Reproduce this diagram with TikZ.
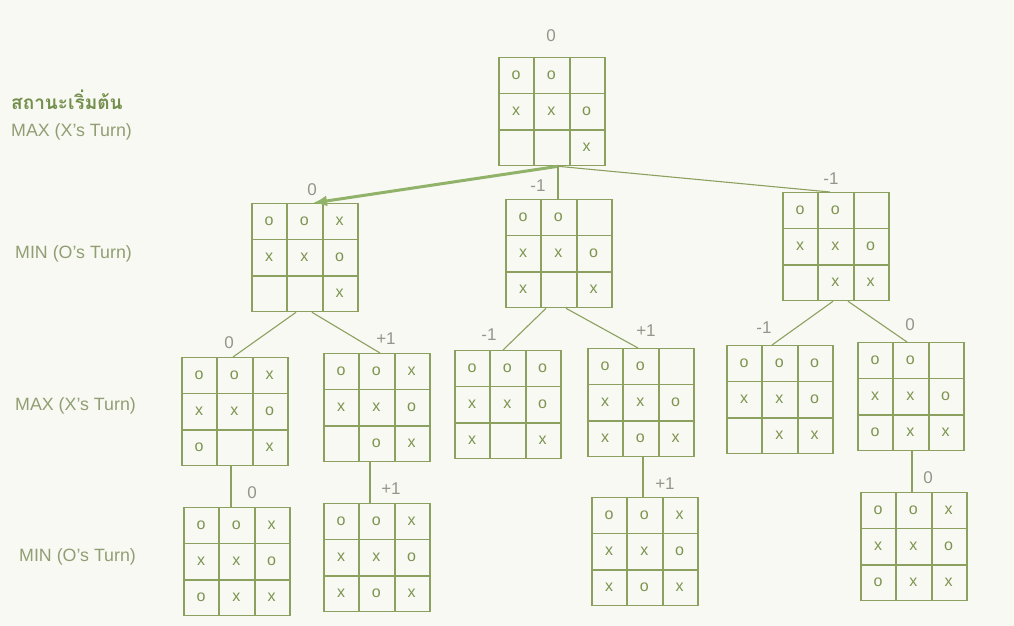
\documentclass[tikz,border=0pt]{standalone}
\usepackage{fontspec}
\setmainfont{Liberation Sans}
\newfontfamily\thaifont[Script=Thai]{Loma}
\usetikzlibrary{
    arrows.meta,
    positioning,
    calc
}
\definecolor{PaperTint}{RGB}{248,249,243}
\definecolor{BoardGreen}{RGB}{140,160,95}
\definecolor{MarkGreen}{RGB}{125,148,80}
\definecolor{ValueGray}{RGB}{148,150,138}
\definecolor{TurnGray}{RGB}{145,158,115}
\definecolor{ThaiGreen}{RGB}{115,143,75}
\definecolor{ArrowGreen}{RGB}{145,178,105}
\tikzset{
    boardbox/.style={
        draw=BoardGreen,
        line width=1.3pt,
        minimum width=106pt,
        minimum height=108pt,
        inner sep=0pt,
        anchor=north
    },
    gridline/.style={
        BoardGreen,
        line width=1.3pt
    },
    markcell/.style={
        text=MarkGreen,
        font=\fontsize{16}{19}\selectfont,
        inner sep=0pt
    },
    valuetag/.style={
        text=ValueGray,
        font=\fontsize{17}{20}\selectfont,
        inner sep=0pt
    },
    turntag/.style={
        text=TurnGray,
        font=\fontsize{17.8}{21}\selectfont,
        anchor=west,
        inner sep=0pt
    },
    link/.style={
        BoardGreen,
        line width=1.1pt
    },
    bestlink/.style={
        ArrowGreen,
        line width=3pt,
        -{Latex[length=14pt,width=11pt]}
    }
}
% one tic-tac-toe position: name, top centre, nine cells (- = empty)
\newcommand{\tttboard}[3]{%
    \node[boardbox] (#1) at (#2) {};
    \foreach \k in {1,2}{
        \draw[gridline]
        ($(#1.north west)!\k/3!(#1.north east)$)
        --
        ($(#1.south west)!\k/3!(#1.south east)$);
        \draw[gridline]
        ($(#1.north west)!\k/3!(#1.south west)$)
        --
        ($(#1.north east)!\k/3!(#1.south east)$);
    }
    \foreach \m [count=\i from 0] in {#3}{
        \pgfmathtruncatemacro{\c}{mod(\i,3)}
        \pgfmathtruncatemacro{\r}{\i/3}
        \if\m-\else
            \node[markcell] (#1-\i)
            at ($(#1.north west)+({17.67+35.33*\c},{18+36*\r})$) {\m};
        \fi
    }
}

\begin{document}
\begin{tikzpicture}[x=1pt,y=-1pt]
%
    \useasboundingbox[fill=PaperTint] (0,0) rectangle (1014,626);
%
    % turn labels
    \node[
        turntag,
        text=ThaiGreen,
        font=\thaifont\bfseries\fontsize{19}{22}\selectfont
    ] (start-tag) at (11,100) {สถานะเริ่มต้น};
    \node[turntag] (turn-max0) at (11,132) {MAX (X's Turn)};
    \node[turntag] (turn-min1) at (15,254) {MIN (O's Turn)};
    \node[turntag] (turn-max2) at (15,406) {MAX (X's Turn)};
    \node[turntag] (turn-min3) at (19,557) {MIN (O's Turn)};
%
    % boards
    \tttboard{root}{552,57}{o,o,-,x,x,o,-,-,x}
    \tttboard{mina}{305,203}{o,o,x,x,x,o,-,-,x}
    \tttboard{minb}{559,199}{o,o,-,x,x,o,x,-,x}
    \tttboard{minc}{836,192}{o,o,-,x,x,o,-,x,x}
    \tttboard{maxa}{235,357}{o,o,x,x,x,o,o,-,x}
    \tttboard{maxb}{377,353}{o,o,x,x,x,o,-,o,x}
    \tttboard{maxc}{508,350}{o,o,o,x,x,o,x,-,x}
    \tttboard{maxd}{641,348}{o,o,-,x,x,o,x,o,x}
    \tttboard{maxe}{780,345}{o,o,o,x,x,o,-,x,x}
    \tttboard{maxf}{911,342}{o,o,-,x,x,o,o,x,x}
    \tttboard{lasta}{237,507}{o,o,x,x,x,o,o,x,x}
    \tttboard{lastb}{377,503}{o,o,x,x,x,o,x,o,x}
    \tttboard{lastc}{645,497}{o,o,x,x,x,o,x,o,x}
    \tttboard{lastd}{914,492}{o,o,x,x,x,o,o,x,x}
%
    % minimax values
    \node[valuetag] (root-val) at (551,36) {0};
    \node[valuetag] (mina-val) at (312,190) {0};
    \node[valuetag] (minb-val) at (538,186) {-1};
    \node[valuetag] (minc-val) at (831,179) {-1};
    \node[valuetag] (maxa-val) at (229,343) {0};
    \node[valuetag] (maxb-val) at (386,339) {+1};
    \node[valuetag] (maxc-val) at (489,335) {-1};
    \node[valuetag] (maxd-val) at (646,331) {+1};
    \node[valuetag] (maxe-val) at (764,328) {-1};
    \node[valuetag] (maxf-val) at (910,325) {0};
    \node[valuetag] (lasta-val) at (252,493) {0};
    \node[valuetag] (lastb-val) at (391,489) {+1};
    \node[valuetag] (lastc-val) at (665,484) {+1};
    \node[valuetag] (lastd-val) at (928,478) {0};
%
    % fork points
    \coordinate (root-fork) at ($(root.south)+(6,0)$);
    \coordinate (mina-in) at ($(mina.north)+(8,0)$);
    \coordinate (minc-in) at ($(minc.north)+(-6,0)$);
    \coordinate (mina-outl) at ($(mina.south)+(-9,0)$);
    \coordinate (mina-outr) at ($(mina.south)+(7,0)$);
    \coordinate (minb-outl) at ($(minb.south)+(-13,0)$);
    \coordinate (minb-outr) at ($(minb.south)+(7,0)$);
    \coordinate (minc-outl) at ($(minc.south)+(-3,0)$);
    \coordinate (minc-outr) at ($(minc.south)+(12,0)$);
    \coordinate (maxa-out) at ($(maxa.south)+(-4,0)$);
    \coordinate (maxb-out) at ($(maxb.south)+(-7,0)$);
    \coordinate (maxd-out) at ($(maxd.south)+(2,0)$);
    \coordinate (maxf-out) at ($(maxf.south)+(1,0)$);
%
    % connectors
    \draw[bestlink] (root-fork) -- (mina-in);
    \draw[link] (root-fork) -- (root-fork |- minb.north);
    \draw[link] (root-fork) -- (minc-in);
    \draw[link] (mina-outl) -- ($(maxa.north)+(-2,0)$);
    \draw[link] (mina-outr) -- ($(maxb.north)+(3,0)$);
    \draw[link] (minb-outl) -- ($(maxc.north)+(-5,0)$);
    \draw[link] (minb-outr) -- ($(maxd.north)+(-3,0)$);
    \draw[link] (minc-outl) -- ($(maxe.north)+(-8,0)$);
    \draw[link] (minc-outr) -- ($(maxf.north)+(-4,0)$);
    \draw[link] (maxa-out) -- (maxa-out |- lasta.north);
    \draw[link] (maxb-out) -- (maxb-out |- lastb.north);
    \draw[link] (maxd-out) -- (maxd-out |- lastc.north);
    \draw[link] (maxf-out) -- (maxf-out |- lastd.north);
%
\end{tikzpicture}
\end{document}
